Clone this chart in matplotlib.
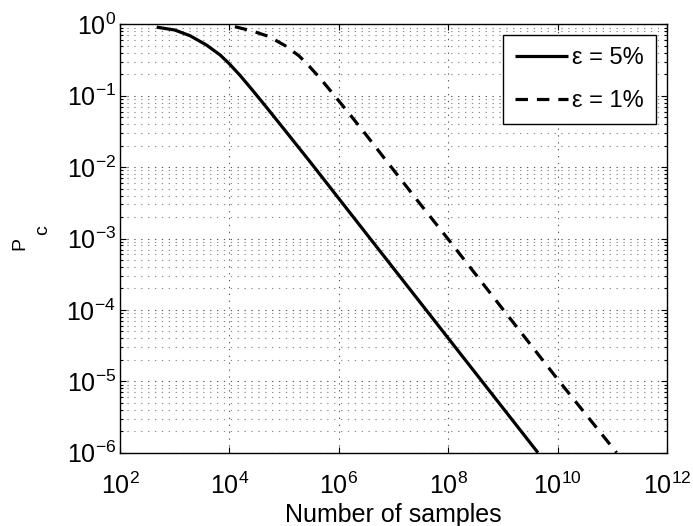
import numpy as np
import matplotlib
matplotlib.use("Agg")
import matplotlib.pyplot as plt
from matplotlib.ticker import FixedLocator, NullLocator, LogLocator, LogFormatterSciNotation, NullFormatter

plt.rcParams['font.family'] = ['Liberation Sans', 'DejaVu Sans']
plt.rcParams['mathtext.fontset'] = 'custom'
plt.rcParams['mathtext.rm'] = 'Liberation Sans'
plt.rcParams['mathtext.it'] = 'Liberation Sans:italic'
plt.rcParams['mathtext.default'] = 'regular'

# data
n_eps5 = [468, 1000, 1905, 3802, 6761, 1e4, 1.585e4, 2.69e4, 4.79e4,
          1e5, 3.16e5, 1e6, 1e7, 1e8, 1e9, 4.37e9]
pc_eps5 = [0.912, 0.832, 0.692, 0.513, 0.372, 0.279, 0.1905, 0.1175, 0.0684,
           0.0339, 0.01122, 0.00363, 3.82e-4, 4.02e-5, 4.23e-6, 1e-6]

n_eps1 = [1.26e4, 2.51e4, 5.25e4, 1.05e5, 1.86e5, 2.75e5, 4.37e5, 7.41e5,
          1.32e6, 2.75e6, 1e7, 2.75e7, 1e8, 1e9, 1e10, 1.2e11]
pc_eps1 = [0.925, 0.813, 0.676, 0.501, 0.363, 0.269, 0.182, 0.112,
           0.0653, 0.0324, 0.00912, 0.00339, 9.77e-4, 1.02e-4, 1.07e-5, 1e-6]

labels = ['ε = 5%', 'ε = 1%']
x_ticks = [1e2, 1e4, 1e6, 1e8, 1e10, 1e12]
y_ticks = [1e-6, 1e-5, 1e-4, 1e-3, 1e-2, 1e-1, 1e0]

fig = plt.figure(figsize=(6.93, 5.26), dpi=100)
ax = fig.add_axes([120/693, 1-452.7/526, 547/693, 428.4/526])

ax.plot(n_eps5, pc_eps5, color='black', lw=2.3, solid_capstyle='butt',
        solid_joinstyle='round', label=labels[0])
ax.plot(n_eps1, pc_eps1, color='black', lw=2.3, linestyle=(0, (3.9, 2.8)),
        dash_joinstyle='round', label=labels[1])

ax.set_xscale('log')
ax.set_yscale('log')
ax.set_xlim(1e2, 1e12)
ax.set_ylim(1e-6, 1e0)

ax.xaxis.set_major_locator(FixedLocator(x_ticks))
ax.xaxis.set_major_formatter(LogFormatterSciNotation())
ax.xaxis.set_minor_locator(NullLocator())
ax.yaxis.set_major_locator(FixedLocator(y_ticks))
ax.yaxis.set_major_formatter(LogFormatterSciNotation())
ax.yaxis.set_minor_locator(LogLocator(base=10, subs=np.arange(2, 10)))
ax.yaxis.set_minor_formatter(NullFormatter())

ax.tick_params(which='both', direction='in', top=True, right=True, width=0.8)
ax.tick_params(which='major', length=4.5, labelsize=18)
ax.tick_params(which='minor', length=2.5)
ax.tick_params(axis='x', which='major', pad=14)
ax.tick_params(axis='y', which='major', pad=3)

ax.grid(True, which='major', axis='both', color='0.35', lw=0.8, linestyle=(0, (1.2, 5)))
ax.grid(True, which='minor', axis='y', color='0.55', lw=0.8, linestyle=(0, (1.2, 5)))
ax.set_axisbelow(True)

for s in ax.spines.values():
    s.set_linewidth(1.0)
    s.set_color('black')

ax.set_xlabel('Number of samples', fontsize=18, labelpad=3)

fig.text(19.5/693, 1-243/526, 'P', rotation=90, fontsize=14, ha='center', va='center')
fig.text(42.5/693, 1-230/526, 'c', rotation=90, fontsize=14, ha='center', va='center')

leg = ax.legend(loc='upper right', fontsize=17, frameon=True, fancybox=False,
                framealpha=1, edgecolor='black', handlelength=2.25,
                handletextpad=0.2, borderpad=0.5, labelspacing=0.9,
                borderaxespad=0.47)
leg.get_frame().set_linewidth(1.0)

fig.savefig('out.png', dpi=100)
